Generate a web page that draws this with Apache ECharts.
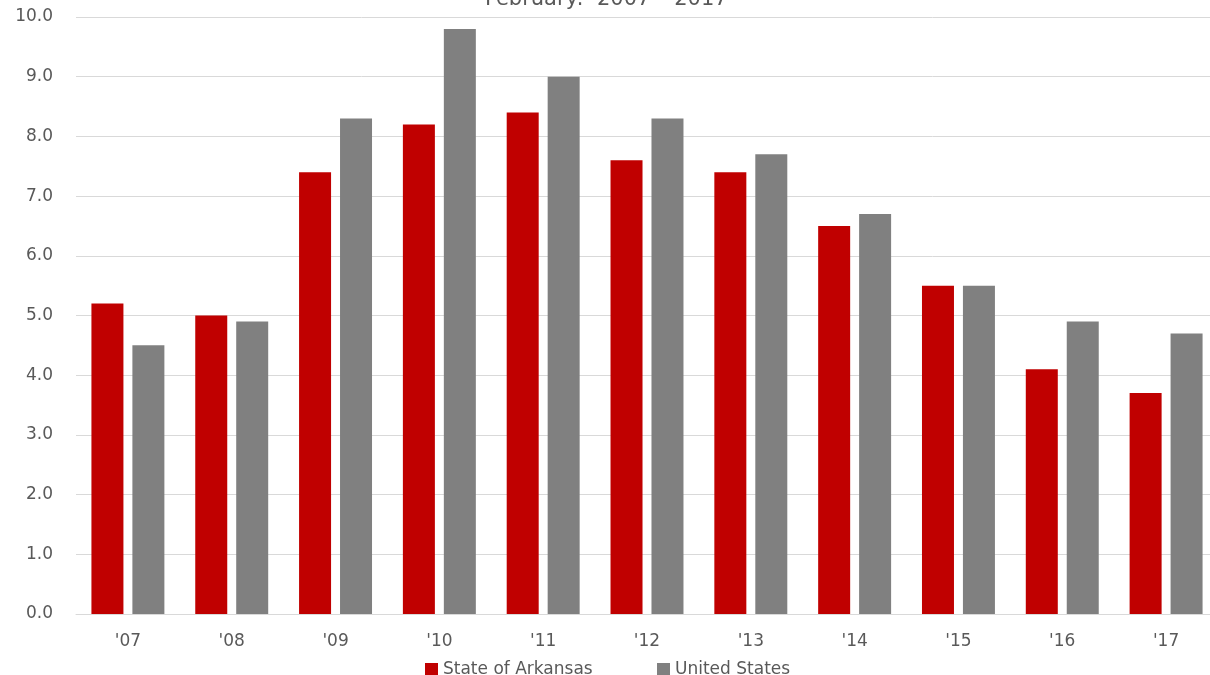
<!DOCTYPE html>
<html><head><meta charset="utf-8">
<script src="https://cdn.jsdelivr.net/npm/echarts@6/dist/echarts.min.js"></script>
<style>html,body{margin:0;padding:0;background:#fff;overflow:hidden;width:1210px;height:675px}#c{width:1218px;height:675px}</style>
</head><body><div id="c"></div>
<script>
var categories = ["'07","'08","'09","'10","'11","'12","'13","'14","'15","'16","'17"];
var arkansas = [5.2, 5.0, 7.4, 8.2, 8.4, 7.6, 7.4, 6.5, 5.5, 4.1, 3.7];
var unitedStates = [4.5, 4.9, 8.3, 9.8, 9.0, 8.3, 7.7, 6.7, 5.5, 4.9, 4.7];
var titleText = "February:  2007 – 2017";
var font = "DejaVu Sans";
var chart = echarts.init(document.getElementById('c'));
chart.setOption({
  animation:false,
  title:{text:titleText,left:480,top:-16,textStyle:{fontFamily:font,fontSize:21,fontWeight:'normal',color:'#595959'}},
  grid:{left:76,top:17,width:1142,height:597,containLabel:false},
  legend:[
    {top:656,left:420,itemWidth:13,itemHeight:13,icon:'rect',itemGap:8,
     textStyle:{fontFamily:font,fontSize:17,color:'#595959'},data:['State of Arkansas']},
    {top:656,left:652,itemWidth:13,itemHeight:13,icon:'rect',
     textStyle:{fontFamily:font,fontSize:17,color:'#595959'},data:['United States']}
  ],
  xAxis:{type:'category',data:categories,axisTick:{show:false},
    axisLine:{lineStyle:{color:'#d9d9d9'}},
    axisLabel:{margin:19,fontFamily:font,fontSize:17,color:'#595959'}},
  yAxis:{type:'value',min:0,max:10,interval:1,
    axisLabel:{margin:23,fontFamily:font,fontSize:17,color:'#595959',formatter:function(v){return v.toFixed(1);}},
    splitLine:{lineStyle:{color:'#d9d9d9'}}},
  series:[
    {name:'State of Arkansas',type:'bar',data:arkansas,barWidth:32,barGap:'28%',itemStyle:{color:'#C00000'}},
    {name:'United States',type:'bar',data:unitedStates,barWidth:32,itemStyle:{color:'#808080'}}
  ]
});
</script></body></html>
